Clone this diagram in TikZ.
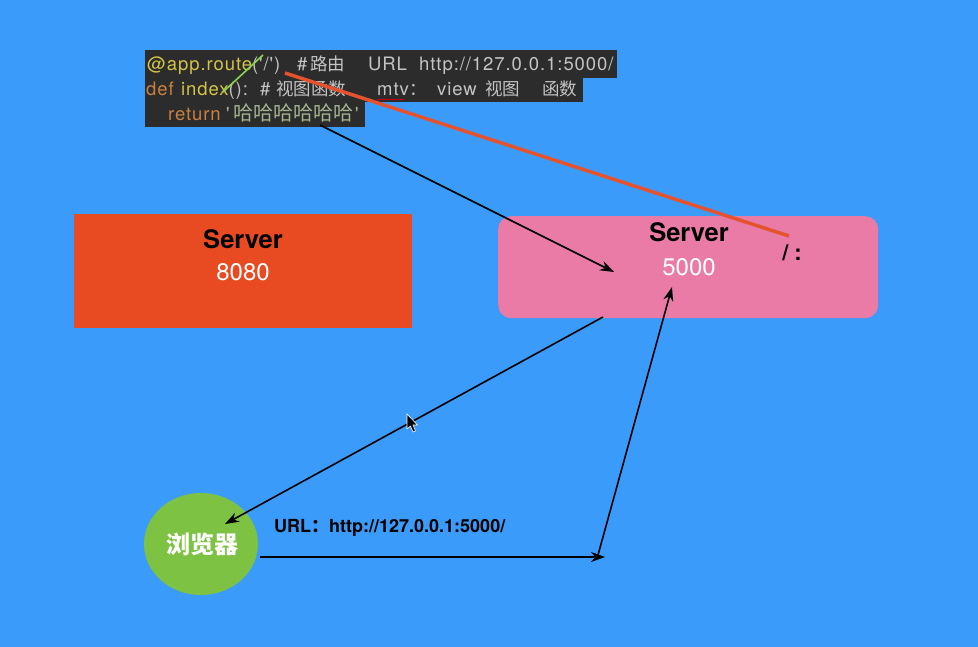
\documentclass[tikz,border=0pt]{standalone}
\usepackage{fontspec}
\setmainfont{TeX Gyre Heros}
\newfontfamily\cjk{Noto Sans CJK SC}
\newfontfamily\codef[LetterSpace=5]{TeX Gyre Heros}
\usetikzlibrary{arrows.meta,shapes.geometric}
\definecolor{bgblue}{HTML}{3B9BFA}
\definecolor{codebg}{HTML}{2C2C2C}
\definecolor{cyel}{HTML}{D4C448}
\definecolor{corg}{HTML}{C98040}
\definecolor{cgry}{HTML}{C4C4C4}
\definecolor{cstr}{HTML}{A3B48E}
\definecolor{srvred}{HTML}{E84A22}
\definecolor{srvpink}{HTML}{E97BA6}
\definecolor{brgreen}{HTML}{7DC242}
\definecolor{redline}{HTML}{E5532E}
\definecolor{grnline}{HTML}{8BD152}
\tikzset{
  codetxt/.style={anchor=base west, inner sep=0pt, font=\codef\fontsize{18.5}{20}\selectfont},
  cjktxt/.style={anchor=base west, inner sep=0pt, font=\cjk\fontsize{17.5}{20}\selectfont, text=cgry},
  conn/.style={draw=black, line width=1.6pt, -{Stealth[length=14pt,width=10pt]}},
  boxtxt/.style={inner sep=0pt, font=\fontsize{24}{26}\selectfont}
}
\begin{document}
\begin{tikzpicture}[x=1pt,y=-1pt]
\fill[bgblue] (0,0) rectangle (978,647);
\useasboundingbox (0,0) rectangle (978,647);

% code block
\fill[codebg] (145,50) rectangle (617,78);
\fill[codebg] (145,78) rectangle (583,102);
\fill[codebg] (145,102) rectangle (365,127);
\node (code) [inner sep=0pt, minimum width=472pt, minimum height=77pt, anchor=north west] at (145,50) {};

\node[codetxt, text=cyel] (l1a) at (147,71) {@app.route\textcolor{cgry}{('/')}};
\node[codetxt, text=cgry] (l1b) at (297,71) {\#};
\node[cjktxt] (l1c) at (310,71) {路由};
\node[codetxt, text=cgry] (l1d) at (368,71) {URL};
\node[codetxt, text=cgry] (l1e) at (419,71) {http://127.0.0.1:5000/};

\node[codetxt, text=corg] (l2a) at (146,96) {def};
\node[codetxt, text=cyel] (l2b) at (181,96) {index\textcolor{cgry}{():}};
\node[codetxt, text=cgry] (l2c) at (260,96) {\#};
\node[cjktxt] (l2d) at (276,96) {视图函数};
\node[codetxt, text=cgry] (l2e) at (377,96) {mtv};
\node[cjktxt] (l2f) at (409,96) {：};
\node[codetxt, text=cgry] (l2g) at (437,96) {view};
\node[cjktxt] (l2h) at (485,96) {视图};
\node[cjktxt] (l2i) at (542,96) {函数};
\draw[red!80!black, line width=1pt] (377,99.5) -- (405,99.5);

\node[codetxt, text=corg] (l3a) at (168,121) {return};
\node[codetxt, text=cstr] (l3b) at (226,121) {'};
\node[anchor=base west, inner sep=0pt, font=\cjk\fontsize{20}{22}\selectfont, text=cstr] (l3c) at (233,121) {哈哈哈哈哈哈};
\node[codetxt, text=cstr] (l3d) at (355,121) {'};

% servers
\node (s8080) [fill=srvred, minimum width=338pt, minimum height=114pt, inner sep=0pt, anchor=north west] at (74,214) {};
\node[boxtxt, font=\bfseries\fontsize{25.5}{27}\selectfont, text=black] (s8080a) at (243,239) {Server};
\node[boxtxt, text=white] (s8080b) at (243,272) {8080};

\node (s5000) [fill=srvpink, rounded corners=13pt, minimum width=380pt, minimum height=102pt, inner sep=0pt, anchor=north west] at (498,216) {};
\node[boxtxt, font=\bfseries\fontsize{25.5}{27}\selectfont, text=black] (s5000a) at (689,232) {Server};
\node[boxtxt, text=white] (s5000b) at (689,267) {5000};
\node[inner sep=0pt, font=\bfseries\fontsize{22}{24}\selectfont] (slash) at (792,253) {/\hspace{6pt}:};

% browser
\node (br) [ellipse, fill=brgreen, minimum width=114pt, minimum height=102pt, inner sep=0pt] at (201,544) {};
\node[font=\cjk\bfseries\fontsize{24}{26}\selectfont, text=white, inner sep=0pt] (brt) at (202,544) {浏览器};

\node[anchor=west, inner sep=0pt, font=\bfseries\fontsize{18}{20}\selectfont] (url) at (274,528) {URL{\cjk：}http://127.0.0.1:5000/};

% connector end points
\coordinate (c1s) at (320,125);
\coordinate (c1e) at (614,272);
\coordinate (c2s) at (603,317);
\coordinate (c2e) at (225,524);
\coordinate (c3s) at (260,557);
\coordinate (c3e) at (605,557);
\coordinate (c4s) at (598,555);
\coordinate (c4e) at (672,287);

\draw[conn] (c1s) -- (c1e);
\draw[conn] (c2s) -- (c2e);
\draw[conn] (c3s) -- (c3e);
\draw[conn] (c4s) -- (c4e);

% annotation strokes
\coordinate (r1) at (285,73);
\coordinate (r2) at (789,236);
\draw[redline, line width=3.5pt] (r1) -- (r2);
\coordinate (g1) at (223,92);
\coordinate (g2) at (263,55);
\draw[grnline, line width=1.6pt] (g1) -- (g2);

% mouse pointer
\fill[black, draw=white, line width=0.6pt] (407,414) -- (407,429) -- (410.5,426) -- (413,432) -- (415.5,431) -- (413,425) -- (417.5,425) -- cycle;
\end{tikzpicture}
\end{document}
